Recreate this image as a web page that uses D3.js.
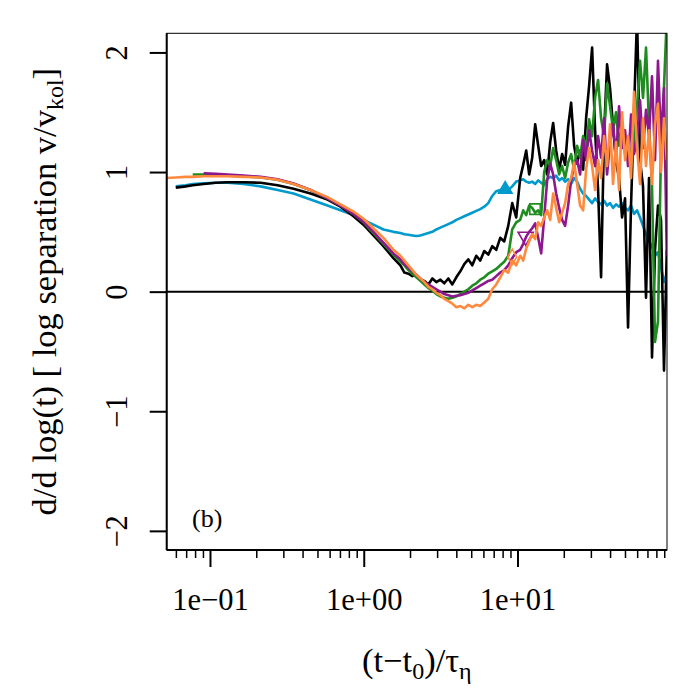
<!DOCTYPE html>
<html>
<head>
<meta charset="utf-8">
<script src="https://cdnjs.cloudflare.com/ajax/libs/d3/7.8.5/d3.min.js"></script>
<style>
body{margin:0;background:#fff;}
text{font-family:"Liberation Serif","Times New Roman",serif;fill:#000;}
</style>
</head>
<body>
<div id="chart"></div>
<script>
// time axis (t-t0)/tau_eta, shared by all curves
const times = [0.0523,0.0599,0.0695,0.0772,0.0910,0.1089,0.1302,0.1655,0.2134,0.2752,
  0.3495,0.4507,0.5810,0.7058,0.8573,0.9955,1.156,1.342,1.559,1.731,
  1.838,1.951,2.071,2.199,2.334,2.479,2.632,2.794,2.966,3.149,
  3.342,3.548,3.767,3.999,4.246,4.507,4.786,5.080,5.393,5.726,
  6.078,6.453,6.850,7.273,7.721,8.197,8.702,9.239,9.808,10.41,
  10.89,11.39,11.91,12.46,13.03,13.63,14.25,14.91,15.59,16.31,
  17.05,17.84,18.66,19.51,20.40,21.34,22.32,23.34,24.42,25.53,
  26.71,27.93,29.22,30.56,31.95,33.42,34.95,36.56,38.23,39.99,
  41.82,43.74,45.75,47.85,50.05,52.34,54.74,57.26,59.89,62.64,
  65.50,68.51,71.66,74.95,78.39,81.97,85.74,89.68,93.5];

const blackVals = [null,0.87,0.88,0.89,0.90,0.91,0.915,0.915,0.91,0.89,
  0.86,0.82,0.77,0.71,0.63,0.56,0.47,0.38,0.28,0.22,
  0.16,0.15,0.13,0.14,0.10,0.09,0.06,0.11,0.08,0.10,
  0.07,0.11,0.06,0.12,0.17,0.23,0.27,0.22,0.30,0.26,
  0.34,0.31,0.38,0.35,0.45,0.42,0.55,0.74,0.62,0.95,
  1.06,1.18,0.98,1.12,1.40,1.22,1.05,1.10,0.98,1.25,
  1.41,1.18,1.02,1.15,1.06,1.38,1.58,1.22,1.08,1.18,
  1.02,1.45,1.72,2.04,1.35,0.85,0.12,1.32,1.90,1.70,
  1.38,1.08,0.95,0.62,0.78,-0.30,0.72,1.52,2.30,1.10,
  0.88,-0.05,0.95,-0.55,0.35,0.72,0.60,-0.66,0.35];

const blueVals = [null,0.88,0.89,0.90,0.905,0.91,0.91,0.90,0.88,0.85,
  0.82,0.77,0.72,0.68,0.64,0.60,0.56,0.52,0.50,0.49,
  0.48,0.475,0.47,0.465,0.47,0.48,0.49,0.50,0.52,0.535,
  0.55,0.565,0.58,0.60,0.615,0.63,0.645,0.66,0.675,0.69,
  0.71,0.74,0.80,0.84,0.85,0.84,0.85,0.88,0.92,0.93,
  0.94,0.92,0.91,0.92,0.90,0.93,0.91,0.89,0.94,0.96,
  0.95,0.97,0.93,0.95,0.92,0.94,0.90,0.95,0.92,0.86,
  0.82,0.80,0.77,0.74,0.78,0.75,0.73,0.76,0.72,0.74,
  0.70,0.73,0.71,0.74,0.70,0.68,0.72,0.65,0.68,0.62,
  0.55,0.48,0.42,0.38,0.30,0.33,0.20,0.08,0.15];

const greenVals = [null,null,null,0.98,0.98,0.975,0.97,0.965,0.955,0.935,
  0.90,0.85,0.78,0.72,0.65,0.58,0.49,0.40,0.31,0.25,
  0.22,0.18,0.15,0.12,0.09,0.06,0.03,0.01,-0.02,-0.04,
  -0.05,-0.06,-0.05,-0.04,-0.02,0.00,0.02,0.05,0.07,0.10,
  0.12,0.15,0.17,0.19,0.22,0.25,0.30,0.52,0.58,0.60,
  0.68,0.64,0.72,0.70,0.66,0.68,0.64,1.00,1.10,1.05,
  1.20,1.10,0.98,1.05,0.95,1.08,1.15,1.02,1.22,1.12,
  1.30,1.20,1.44,1.30,1.62,1.77,1.45,1.30,1.74,1.55,
  1.35,1.50,1.22,1.40,1.15,1.30,1.05,1.25,1.55,1.93,
  1.62,2.04,1.40,0.88,-0.42,-0.25,1.20,1.71,2.30];

const purpleVals = [null,null,null,null,0.99,0.985,0.98,0.97,0.96,0.94,
  0.905,0.85,0.78,0.72,0.65,0.585,0.50,0.41,0.32,0.27,
  0.23,0.20,0.17,0.14,0.11,0.08,0.06,0.04,0.02,0.00,
  -0.02,-0.03,-0.04,-0.035,-0.03,-0.02,-0.01,0.01,0.03,0.05,
  0.07,0.09,0.10,0.13,0.16,0.18,0.22,0.28,0.33,0.35,
  0.40,0.46,0.50,0.53,0.57,0.45,0.32,0.62,0.93,1.07,
  0.98,0.82,0.70,0.60,0.55,0.72,0.93,1.05,1.10,0.98,
  1.27,1.10,1.35,1.18,1.05,1.30,1.12,1.45,0.98,1.25,
  1.40,1.10,1.55,1.20,1.35,1.05,1.48,1.15,1.28,1.60,
  1.20,1.52,1.30,1.80,1.10,1.93,1.25,1.70,0.30];

const orangeVals = [0.95,0.955,0.96,0.96,0.965,0.965,0.965,0.96,0.955,0.935,
  0.90,0.85,0.79,0.73,0.67,0.61,0.53,0.45,0.35,0.30,
  0.26,0.22,0.18,0.14,0.11,0.08,0.04,0.02,-0.01,-0.03,
  -0.06,-0.08,-0.10,-0.13,-0.12,-0.14,-0.11,-0.13,-0.11,-0.12,
  -0.09,-0.06,0.02,0.06,0.12,0.18,0.16,0.26,0.22,0.30,
  0.26,0.36,0.42,0.48,0.44,0.58,0.55,0.62,0.68,0.60,
  0.82,0.70,0.58,0.66,0.74,0.90,0.95,1.08,0.90,0.72,
  0.68,1.02,1.20,1.05,0.85,1.10,0.95,1.30,1.05,1.40,
  0.90,1.25,0.85,1.50,1.10,1.30,0.95,1.67,1.20,0.90,
  1.45,1.05,1.35,0.90,1.40,1.57,1.00,1.45,1.10];

// one marker per coloured curve: blue, green, purple, orange
const markT = [8.32, 13.0, 11.3, 9.24];
const markV = [0.855, 0.69, 0.46, 0.29];

const majorTicks = [0.1, 1, 10];
const majorLabels = ["1e\u221201", "1e+00", "1e+01"];
const minorTicks = [0.06,0.07,0.08,0.09,0.2,0.3,0.4,0.5,0.6,0.7,0.8,0.9,
  2,3,4,5,6,7,8,9,20,30,40,50,60,70,80,90];
const yTicks = [-2, -1, 0, 1, 2];
const yLabels = ["\u22122", "\u22121", "0", "1", "2"];

const w = 700, h = 700;
const pLeft = 166.7, pRight = 667, pTop = 33.3, pBottom = 550;

const svg = d3.select("#chart").append("svg")
  .attr("width", w).attr("height", h);

const x = d3.scaleLog().domain([0.0523, 93.8]).range([pLeft, pRight]);
const y = d3.scaleLinear().domain([-2.16, 2.16]).range([pBottom, pTop]);

svg.append("clipPath").attr("id", "plotclip")
  .append("rect").attr("x", pLeft).attr("y", pTop)
  .attr("width", pRight - pLeft).attr("height", pBottom - pTop);

// horizontal reference at zero
svg.append("line")
  .attr("x1", pLeft).attr("x2", pRight)
  .attr("y1", y(0)).attr("y2", y(0))
  .attr("stroke", "#000").attr("stroke-width", 2);

const series = [
  {vals: blueVals, color: "#009ACD", mark: 0, sym: d3.symbolTriangle, size: 80, rot: 0, fill: true},
  {vals: blackVals, color: "#000000", mark: -1},
  {vals: greenVals, color: "#1E8C1E", mark: 1, sym: d3.symbolSquare, size: 110, rot: 0, fill: false},
  {vals: purpleVals, color: "#8E168E", mark: 2, sym: d3.symbolTriangle, size: 100, rot: 180, fill: false},
  {vals: orangeVals, color: "#FF8A3D", mark: 3, sym: d3.symbolDiamond, size: 70, rot: 0, fill: false}
];

const line = d3.line()
  .defined(d => d[1] !== null)
  .x(d => x(d[0]))
  .y(d => y(d[1]));

const plot = svg.append("g").attr("clip-path", "url(#plotclip)");

series.forEach(s => {
  const pts = times.map((t, i) => [t, s.vals[i]]);
  plot.append("path")
    .attr("d", line(pts))
    .attr("fill", "none")
    .attr("stroke", s.color)
    .attr("stroke-width", 2.6)
    .attr("stroke-linejoin", "round");
  if (s.mark >= 0) {
    plot.append("path")
      .attr("d", d3.symbol().type(s.sym).size(s.size)())
      .attr("transform", `translate(${x(markT[s.mark])},${y(markV[s.mark])}) rotate(${s.rot})`)
      .attr("fill", s.fill ? s.color : "none")
      .attr("stroke", s.color)
      .attr("stroke-width", 1.6);
  }
});

// box
svg.append("rect")
  .attr("x", pLeft).attr("y", pTop)
  .attr("width", pRight - pLeft).attr("height", pBottom - pTop)
  .attr("fill", "none").attr("stroke", "#000").attr("stroke-width", 1);

// x axis: major and minor ticks
const gx = svg.append("g").attr("transform", `translate(0,${pBottom})`);
gx.call(d3.axisBottom(x).tickValues(majorTicks).tickSize(17)
  .tickFormat((d, i) => majorLabels[i]));
gx.select(".domain").remove();
gx.selectAll("line").attr("stroke", "#000").attr("stroke-width", 2);
gx.selectAll("text").attr("y", 60).attr("dy", 0)
  .attr("font-size", 30.5).attr("font-family", "Liberation Serif");

const gxm = svg.append("g").attr("transform", `translate(0,${pBottom})`);
gxm.call(d3.axisBottom(x).tickValues(minorTicks).tickSize(8).tickFormat(""));
gxm.select(".domain").remove();
gxm.selectAll("line").attr("stroke", "#000").attr("stroke-width", 1.5);

svg.append("line")
  .attr("x1", pLeft).attr("x2", pRight)
  .attr("y1", pBottom).attr("y2", pBottom)
  .attr("stroke", "#000").attr("stroke-width", 2);

// y axis
const gy = svg.append("g").attr("transform", `translate(${pLeft},0)`);
gy.call(d3.axisLeft(y).tickValues(yTicks).tickSize(17)
  .tickFormat((d, i) => yLabels[i]));
gy.select(".domain").remove();
gy.selectAll("line").attr("stroke", "#000").attr("stroke-width", 2);
gy.selectAll("text")
  .attr("x", 0).attr("y", 0).attr("dy", 0)
  .attr("text-anchor", "middle")
  .attr("transform", `translate(${127 - pLeft},0) rotate(-90)`)
  .attr("font-size", 30.5).attr("font-family", "Liberation Serif");

svg.append("line")
  .attr("x1", pLeft).attr("x2", pLeft)
  .attr("y1", pTop).attr("y2", pBottom)
  .attr("stroke", "#000").attr("stroke-width", 2);

// axis titles
const xt = svg.append("text")
  .attr("x", (pLeft + pRight) / 2).attr("y", 672)
  .attr("text-anchor", "middle").attr("font-size", 34.5);
xt.append("tspan").text("(t\u2212t");
xt.append("tspan").attr("font-size", 24).attr("dy", 7).text("0");
xt.append("tspan").attr("dy", -7).text(")/\u03C4");
xt.append("tspan").attr("font-size", 24).attr("dy", 7).text("\u03B7");

const yt = svg.append("text")
  .attr("transform", `translate(56,${(pTop + pBottom) / 2}) rotate(-90)`)
  .attr("text-anchor", "middle").attr("font-size", 34.5);
yt.append("tspan").text("d/d log(t) [ log separation v/v");
yt.append("tspan").attr("font-size", 24).attr("dy", 7).text("kol");
yt.append("tspan").attr("dy", -7).text("]");

svg.append("text")
  .attr("x", 192).attr("y", 527)
  .attr("font-size", 26).text("(b)");
</script>
</body>
</html>
